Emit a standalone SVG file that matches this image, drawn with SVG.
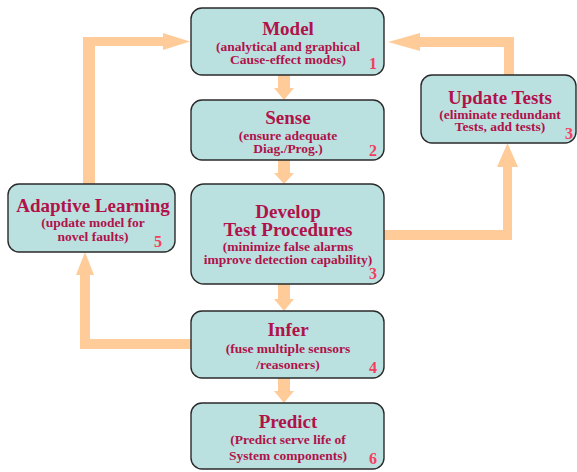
<svg xmlns="http://www.w3.org/2000/svg" width="577" height="472" viewBox="0 0 577 472">
<style>
.box{fill:#BBE0E0;stroke:#2a2a2a;stroke-width:1.4}
.t{font-family:"Liberation Serif","Times New Roman",serif;font-weight:bold;fill:#B0124A;text-anchor:middle}
.h{font-size:19px}
.s{font-size:13.5px}
.n{font-family:"Liberation Serif","Times New Roman",serif;font-weight:bold;font-size:16px;fill:#F2405C;text-anchor:middle}
.a{fill:#FFCC99}
</style>
<rect width="577" height="472" fill="#ffffff"/>
<g id="connectors">
  <polygon class="a" points="278,75 290,75 290,88 294,88 284,100 274,88 278,88"/>
  <polygon class="a" points="278,160 290,160 290,173 294,173 284,184 274,173 278,173"/>
  <polygon class="a" points="278,284 290,284 290,299 294,299 284,311 274,299 278,299"/>
  <polygon class="a" points="278,378 290,378 290,391 294,391 284,403 274,391 278,391"/>
  <polygon class="a" points="191,339 191,349 80,349 80,275 76,275 85,252 94,275 90,275 90,339"/>
  <polygon class="a" points="83,184 95,184 95,46 163,46 163,50 190,41.5 163,33 163,37 83,37"/>
  <polygon class="a" points="384,230 503,230 503,167 497,167 507.5,143 518,167 512,167 512,240 384,240"/>
  <polygon class="a" points="514,75 504,75 504,47 420,47 420,51 388,42 420,33 420,37 514,37"/>
</g>
<g id="model">
  <rect class="box" x="191" y="8" width="193" height="67" rx="11"/>
  <text class="t h" x="288" y="35">Model</text>
  <text class="t s" x="288" y="51">(analytical and graphical</text>
  <text class="t s" x="288" y="64">Cause-effect modes)</text>
  <text class="n" x="373" y="69">1</text>
</g>
<g id="sense">
  <rect class="box" x="191" y="100" width="193" height="60" rx="11"/>
  <text class="t h" x="288" y="124">Sense</text>
  <text class="t s" x="288" y="140">(ensure adequate</text>
  <text class="t s" x="288" y="153">Diag./Prog.)</text>
  <text class="n" x="373" y="156">2</text>
</g>
<g id="develop">
  <rect class="box" x="191" y="184" width="193" height="100" rx="13"/>
  <text class="t h" x="288" y="218">Develop</text>
  <text class="t h" x="288" y="236">Test Procedures</text>
  <text class="t s" x="288" y="251">(minimize false alarms</text>
  <text class="t s" x="288" y="264">improve detection capability)</text>
  <text class="n" x="373" y="279">3</text>
</g>
<g id="infer">
  <rect class="box" x="191" y="311" width="193" height="67" rx="11"/>
  <text class="t h" x="288" y="336">Infer</text>
  <text class="t s" x="288" y="353">(fuse multiple sensors</text>
  <text class="t s" x="288" y="369">/reasoners)</text>
  <text class="n" x="373" y="373">4</text>
</g>
<g id="predict">
  <rect class="box" x="191" y="403" width="193" height="66" rx="11"/>
  <text class="t h" x="288" y="428">Predict</text>
  <text class="t s" x="288" y="444">(Predict serve life of</text>
  <text class="t s" x="288" y="460">System components)</text>
  <text class="n" x="373" y="464">6</text>
</g>
<g id="adaptive-learning">
  <rect class="box" x="8" y="184" width="167" height="68" rx="11"/>
  <text class="t h" x="93" y="212">Adaptive Learning</text>
  <text class="t s" x="93" y="227">(update model for</text>
  <text class="t s" x="93" y="241">novel faults)</text>
  <text class="n" x="158" y="247">5</text>
</g>
<g id="update-tests">
  <rect class="box" x="421" y="75" width="155" height="68" rx="11"/>
  <text class="t h" x="500" y="104">Update Tests</text>
  <text class="t s" x="500" y="119">(eliminate redundant</text>
  <text class="t s" x="500" y="131">Tests, add tests)</text>
  <text class="n" x="569" y="139">3</text>
</g>
</svg>
